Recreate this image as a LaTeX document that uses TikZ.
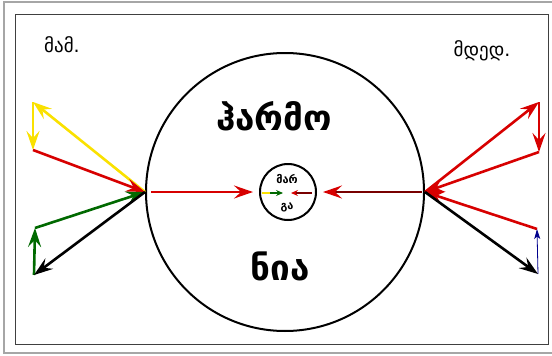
\documentclass[tikz,border=0pt]{standalone}
\usepackage{fontspec}
\setmainfont{DejaVu Sans}
\usetikzlibrary{arrows.meta}

\definecolor{vyellow}{RGB}{250,225,0}
\definecolor{vred}{RGB}{215,0,0}
\definecolor{vdred}{RGB}{120,0,0}
\definecolor{vgreen}{RGB}{0,105,0}
\definecolor{vblue}{RGB}{0,0,140}

\tikzset{
  vec/.style={line width=2.6pt, -{Stealth[length=19pt,width=13pt,inset=7pt]}},
  tinyvec/.style={line width=1.8pt, -{Stealth[length=7pt,width=6pt,inset=2.5pt]}},
  word/.style={font=\bfseries\fontsize{35}{35}\selectfont},
  tag/.style={font=\fontsize{19}{19}\selectfont}
}

\begin{document}
\begin{tikzpicture}[x=1pt, y=-1pt]

\useasboundingbox (0,0) rectangle (552,356);

% frames
\draw[gray!70, line width=1.2pt] (4,2) rectangle (554,353);
\draw[black!75, line width=1pt] (15,14) rectangle (548,344);

% circles
\node[draw, circle, line width=2pt, minimum size=278pt, inner sep=0] (big) at (285,192) {};
\node[draw, circle, line width=2pt, minimum size=56pt, inner sep=0] (small) at (288,192) {};

% labels
\node[tag] (male) at (62,45) {მამ.};
\node[tag] (female) at (482,51) {მდედ.};
\node[word] (top) at (274,116) {ჰარმო};
\node[word] (bottom) at (280,266) {ნია};
\node[font=\bfseries\fontsize{11}{11}\selectfont] (stop) at (287,179) {მარ};
\node[font=\bfseries\fontsize{11}{11}\selectfont] (sbot) at (287,207) {გა};

% end points
\coordinate (y1) at (33,102);
\coordinate (y2) at (33,150);
\coordinate (g1) at (35,228);
\coordinate (k1) at (34,275);
\coordinate (r1) at (539,102);
\coordinate (r2) at (539,152);
\coordinate (r3) at (537,229);
\coordinate (k2) at (538,274);
\coordinate (a1) at (262,193);
\coordinate (a2) at (270,193);
\coordinate (a3) at (283,193);
\coordinate (b1) at (312,193);
\coordinate (b2) at (291,193);

% left side
\draw[vec, vyellow] (big.west) -- (y1);
\draw[vec, vyellow] (y1) -- (y2);
\draw[vec, vred] (y2) -- (big.west);
\draw[vec, vgreen] (k1) -- (g1);
\draw[vec, vgreen] (g1) -- (big.west);
\draw[vec, black] (big.west) -- (k1);

% right side
\draw[vec, vred] (big.east) -- (r1);
\draw[vec, vred] (r1) -- (r2);
\draw[vec, vred] (r2) -- (big.east);
\draw[vec, vred] (r3) -- (big.east);
\draw[line width=0.8pt, vblue, -{Stealth[length=10pt,width=6pt,inset=2.5pt]}] (k2) -- (r3);
\draw[vec, black] (big.east) -- (k2);

% to the centre
\draw[vec, vred, shorten <=6pt, shorten >=6pt] (big.west) -- (small.west);
\draw[line width=2.4pt, vdred, shorten <=3pt, shorten >=6pt,
      -{Stealth[length=19pt,width=13pt,inset=7pt,vred]}] (big.east) -- (small.east);
\draw[line width=1.8pt, vyellow] (a1) -- (a2);
\draw[tinyvec, vgreen] (a2) -- (a3);
\draw[line width=1.8pt, vdred, -{Stealth[length=7pt,width=6pt,inset=2.5pt,vred]}] (b1) -- (b2);

\end{tikzpicture}
\end{document}
